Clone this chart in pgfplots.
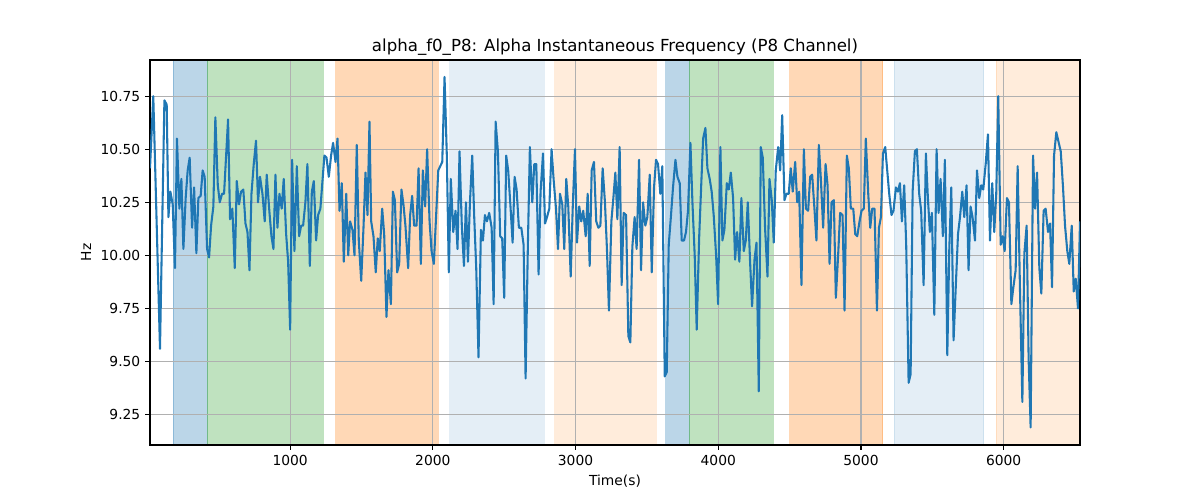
\documentclass[border=0pt]{standalone}
\usepackage{fontspec}
\setmainfont{DejaVu Sans}
\usepackage{pgfplots}
\pgfplotsset{compat=1.18}
\definecolor{tabblue}{HTML}{1F77B4}
\definecolor{taborange}{HTML}{FF7F0E}
\definecolor{tabgreen}{HTML}{2CA02C}
\definecolor{gridgray}{HTML}{B0B0B0}

\begin{document}
\begin{tikzpicture}
\pgfplotsset{set layers}
\begin{axis}[
  name=main, scale only axis, width=9.3in, height=3.85in,
  xmin=18, xmax=6535, ymin=9.107, ymax=10.92,
  clip mode=individual,
  xtick={1000,2000,...,6000}, ytick={9.25,9.5,...,10.75},
  grid=major, major grid style={gridgray, line width=0.8pt},
  axis line style={line width=0.8pt},
  tick style={black, line width=0.8pt}, major tick length=3.5pt,
  tick align=outside, tick pos=left,
  /pgf/number format/assume math mode=true,
  xticklabel style={/pgf/number format/1000 sep={}},
  yticklabel style={/pgf/number format/fixed, /pgf/number format/fixed zerofill, /pgf/number format/precision=2},
  ticklabel style={font=\fontsize{10}{12}\selectfont},
  xlabel={Time(s)}, ylabel={Hz},
  label style={font=\fontsize{10}{12}\selectfont},
  title={alpha\_f0\_P8: Alpha Instantaneous Frequency (P8 Channel)},
  title style={font=\fontsize{12}{14}\selectfont, yshift=-6pt},
]
% shaded stages
\addplot[on layer=axis background, fill=tabblue, fill opacity=0.3, draw=tabblue, draw opacity=0.3] coordinates {(181,9.107) (418,9.107) (418,10.92) (181,10.92)} -- cycle;
\addplot[on layer=axis background, fill=tabgreen, fill opacity=0.3, draw=tabgreen, draw opacity=0.3] coordinates {(418,9.107) (1231,9.107) (1231,10.92) (418,10.92)} -- cycle;
\addplot[on layer=axis background, fill=taborange, fill opacity=0.3, draw=taborange, draw opacity=0.3] coordinates {(1318,9.107) (2035,9.107) (2035,10.92) (1318,10.92)} -- cycle;
\addplot[on layer=axis background, fill=tabblue, fill opacity=0.12, draw=tabblue, draw opacity=0.12] coordinates {(2117,9.107) (2781,9.107) (2781,10.92) (2117,10.92)} -- cycle;
\addplot[on layer=axis background, fill=taborange, fill opacity=0.15, draw=taborange, draw opacity=0.15] coordinates {(2853,9.107) (3566,9.107) (3566,10.92) (2853,10.92)} -- cycle;
\addplot[on layer=axis background, fill=tabblue, fill opacity=0.3, draw=tabblue, draw opacity=0.3] coordinates {(3632,9.107) (3796,9.107) (3796,10.92) (3632,10.92)} -- cycle;
\addplot[on layer=axis background, fill=tabgreen, fill opacity=0.3, draw=tabgreen, draw opacity=0.3] coordinates {(3796,9.107) (4387,9.107) (4387,10.92) (3796,10.92)} -- cycle;
\addplot[on layer=axis background, fill=taborange, fill opacity=0.3, draw=taborange, draw opacity=0.3] coordinates {(4501,9.107) (5151,9.107) (5151,10.92) (4501,10.92)} -- cycle;
\addplot[on layer=axis background, fill=tabblue, fill opacity=0.12, draw=tabblue, draw opacity=0.12] coordinates {(5231,9.107) (5860,9.107) (5860,10.92) (5231,10.92)} -- cycle;
\addplot[on layer=axis background, fill=taborange, fill opacity=0.15, draw=taborange, draw opacity=0.15] coordinates {(5946,9.107) (6535,9.107) (6535,10.92) (5946,10.92)} -- cycle;

% alpha frequency
\addplot[tabblue, line width=1.5pt, line join=round, mark=none] coordinates {
(18,10.41) (41,10.75) (88,9.56) (119,10.73) (135,10.71) (147,10.18) (161,10.30) (177,10.24) (193,9.94) (207,10.55)
(224,10.22) (238,10.36) (252,10.03) (268,10.27) (282,10.40) (296,10.46) (313,10.13) (327,10.32) (343,10.01) (357,10.27)
(373,10.28) (387,10.40) (401,10.37) (418,10.03) (432,9.99) (446,10.14) (462,10.23) (476,10.65) (493,10.33) (507,10.25)
(523,10.29) (537,10.29) (565,10.64) (579,10.17) (595,10.22) (612,9.94) (626,10.35) (642,10.24) (656,10.30) (672,10.31)
(687,10.15) (701,10.11) (715,9.93) (729,10.29) (745,10.43) (761,10.54) (775,10.25) (789,10.37) (806,10.29) (822,10.16)
(836,10.38) (853,10.22) (869,10.09) (883,10.03) (897,10.38) (911,10.13) (925,10.29) (941,10.22) (955,10.36) (972,10.10)
(986,9.97) (1000,9.65) (1014,10.45) (1030,10.02) (1047,10.42) (1063,10.09) (1077,10.14) (1091,10.14) (1107,10.25) (1121,10.43)
(1138,9.95) (1152,10.30) (1166,10.35) (1182,10.07) (1196,10.19) (1212,10.22) (1240,10.47) (1255,10.46) (1271,10.37) (1287,10.47)
(1301,10.53) (1318,10.44) (1332,10.55) (1346,10.21) (1362,10.34) (1376,9.97) (1393,10.29) (1407,10.00) (1420,10.16) (1437,10.12)
(1451,10.00) (1467,10.52) (1481,10.07) (1498,9.88) (1514,10.13) (1528,10.39) (1542,10.19) (1556,10.63) (1568,10.16) (1584,10.09)
(1600,9.92) (1614,10.08) (1628,10.02) (1645,10.22) (1659,10.10) (1675,9.71) (1689,9.93) (1706,9.77) (1720,10.30) (1734,10.26)
(1750,9.92) (1764,9.96) (1780,10.31) (1794,10.24) (1808,10.14) (1827,9.94) (1841,10.19) (1855,10.28) (1869,10.14) (1886,10.14)
(1900,10.41) (1916,9.96) (1930,10.40) (1946,10.23) (1960,10.50) (1977,10.16) (1991,10.02) (2007,9.96) (2038,10.40) (2066,10.44)
(2082,10.84) (2098,10.47) (2112,9.92) (2126,10.36) (2143,10.11) (2159,10.21) (2173,10.03) (2187,10.49) (2203,10.14) (2218,9.95)
(2232,10.25) (2246,9.97) (2260,10.25) (2276,10.47) (2290,10.18) (2304,9.94) (2320,9.52) (2337,10.12) (2351,10.07) (2365,10.19)
(2379,10.16) (2395,10.20) (2412,10.13) (2426,9.77) (2440,10.63) (2456,10.49) (2472,10.09) (2486,10.08) (2500,9.80) (2514,10.47)
(2528,10.40) (2545,10.22) (2559,10.06) (2573,10.37) (2587,10.31) (2603,10.13) (2620,10.13) (2636,10.05) (2650,9.42) (2666,10.05)
(2680,10.51) (2697,10.25) (2711,10.43) (2725,10.43) (2741,9.91) (2755,10.30) (2772,10.48) (2786,10.15) (2800,10.18) (2816,10.22)
(2832,10.50) (2846,10.36) (2863,10.22) (2877,10.03) (2891,10.29) (2907,10.24) (2921,10.03) (2935,10.36) (2949,10.23) (2966,9.90)
(2980,10.22) (2996,10.50) (3010,10.06) (3026,10.23) (3040,10.16) (3054,10.21) (3071,10.09) (3085,10.29) (3099,9.95) (3113,10.40)
(3129,10.44) (3145,10.16) (3160,10.13) (3174,10.14) (3190,10.41) (3206,10.25) (3220,10.03) (3234,9.74) (3251,10.16) (3265,10.27)
(3279,10.39) (3293,10.17) (3309,10.51) (3323,9.86) (3337,10.20) (3354,10.19) (3370,9.62) (3384,9.59) (3398,10.04) (3414,10.18)
(3428,10.03) (3445,10.45) (3459,9.93) (3473,10.25) (3489,10.14) (3503,10.18) (3520,10.38) (3534,9.92) (3550,10.32) (3564,10.45)
(3578,10.43) (3594,10.29) (3608,10.42) (3625,9.43) (3639,9.45) (3653,10.05) (3669,10.19) (3683,10.32) (3700,10.45) (3714,10.37)
(3730,10.34) (3744,10.07) (3760,10.07) (3774,10.11) (3788,10.21) (3805,10.53) (3819,10.25) (3835,10.00) (3849,9.65) (3866,10.08)
(3880,10.32) (3894,10.55) (3910,10.60) (3924,10.41) (3940,10.36) (3954,10.30) (3968,10.19) (3985,10.00) (3999,9.77) (4015,10.51)
(4029,10.07) (4043,10.12) (4060,10.34) (4074,10.31) (4088,10.39) (4104,10.27) (4118,9.98) (4132,10.11) (4148,9.97) (4162,10.27)
(4179,10.02) (4193,10.07) (4207,10.25) (4223,9.97) (4237,9.76) (4254,9.98) (4268,10.06) (4284,9.36) (4298,10.51) (4312,10.46)
(4328,10.13) (4345,9.90) (4359,10.36) (4375,10.26) (4389,10.06) (4403,10.40) (4420,10.51) (4434,10.40) (4448,10.66) (4464,10.26)
(4478,10.29) (4494,10.29) (4508,10.41) (4522,10.30) (4539,10.44) (4553,10.25) (4567,10.30) (4583,9.86) (4600,10.50) (4614,10.22)
(4630,10.21) (4644,10.37) (4658,10.38) (4674,10.22) (4688,10.07) (4705,10.52) (4719,10.36) (4735,10.13) (4752,10.43) (4766,10.33)
(4780,9.96) (4794,10.25) (4810,10.26) (4824,9.80) (4840,10.00) (4854,10.20) (4871,10.19) (4885,9.74) (4901,10.47) (4915,10.41)
(4929,10.22) (4946,10.22) (4960,10.10) (4974,10.09) (4990,10.16) (5004,10.21) (5020,10.22) (5034,10.55) (5051,10.29) (5065,10.13)
(5079,10.22) (5095,10.22) (5112,9.74) (5126,10.13) (5140,10.18) (5154,10.48) (5170,10.51) (5184,10.40) (5198,10.29) (5214,10.19)
(5228,10.21) (5245,10.32) (5259,10.30) (5273,10.34) (5287,10.16) (5303,10.33) (5317,10.05) (5334,9.40) (5348,9.44) (5362,10.30)
(5378,10.49) (5392,10.50) (5408,10.29) (5422,10.21) (5439,9.86) (5455,10.48) (5469,10.27) (5483,10.11) (5497,10.20) (5514,9.72)
(5530,10.50) (5544,10.20) (5558,10.36) (5574,10.09) (5588,10.45) (5605,9.53) (5619,10.03) (5633,10.32) (5649,9.60) (5663,9.83)
(5680,10.10) (5694,10.18) (5710,10.30) (5724,10.18) (5740,10.33) (5754,9.93) (5768,10.23) (5782,10.18) (5799,10.07) (5813,10.40)
(5829,10.27) (5843,10.33) (5857,10.31) (5874,10.43) (5890,10.57) (5904,10.07) (5920,10.34) (5934,10.11) (5948,10.29) (5962,10.75)
(5979,10.05) (5993,10.09) (6007,10.02) (6023,10.27) (6037,10.25) (6054,9.77) (6068,9.85) (6084,9.93) (6098,10.42) (6114,9.85)
(6131,9.31) (6145,10.01) (6161,10.14) (6175,9.51) (6189,9.19) (6206,10.47) (6220,10.22) (6234,10.39) (6250,9.94) (6264,9.82)
(6280,10.21) (6294,10.22) (6311,10.11) (6325,10.15) (6339,9.85) (6353,10.47) (6369,10.58) (6386,10.53) (6400,10.49) (6416,10.32)
(6430,10.14) (6446,10.02) (6460,9.96) (6477,10.14) (6491,9.83) (6505,9.89) (6521,9.75) (6535,10.16)
};
\end{axis}
\path (main.south west) ++(-1.5in,-0.55in) rectangle ++(12in,5in);
\end{tikzpicture}
\end{document}
